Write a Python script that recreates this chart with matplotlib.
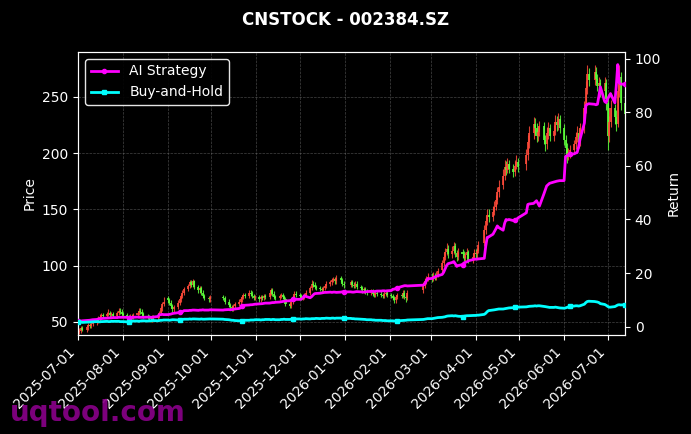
import matplotlib
matplotlib.use("Agg")
import matplotlib.pyplot as plt
import matplotlib.dates as mdates
import numpy as np
import pandas as pd

TITLE = "CNSTOCK - 002384.SZ"
START, END = "2025-07-01", "2026-07-13"
# exchange holidays (weekdays with no trading)
HOLIDAYS = ["2025-10-01", "2025-10-02", "2025-10-03", "2025-10-06", "2025-10-07", "2025-10-08",
            "2026-01-01", "2026-01-02",
            "2026-02-16", "2026-02-17", "2026-02-18", "2026-02-19", "2026-02-20", "2026-02-23",
            "2026-04-06", "2026-05-01", "2026-05-04", "2026-05-05", "2026-06-19"]

# daily OHLC, one line per month (Jul-25 .. Jul-26)
OPEN = [
    40, 41, 42, 44, 43, 45, 47, 46, 48, 49, 51, 53, 54, 56, 55, 57, 58, 56, 57, 55, 58, 60, 59,
    57, 56, 54, 53, 55, 54, 56, 58, 60, 59, 57, 55, 54, 53, 52, 54, 53, 55, 58, 62, 66,
    71, 69, 67, 64, 61, 63, 67, 70, 73, 76, 79, 82, 85, 83, 86, 81, 78, 80, 76, 73, 71, 70,
    72, 71, 68, 65, 63, 62, 64, 66, 68, 70, 72, 74, 73, 76, 75, 73, 71,
    72, 70, 72, 71, 73, 72, 76, 78, 75, 72, 71, 73, 74, 72, 70, 66, 64, 68, 72, 75,
    74, 73, 71, 72, 74, 76, 80, 84, 83, 81, 80, 79, 78, 80, 82, 84, 85, 87, 88, 86, 89, 87, 84,
    83, 85, 83, 82, 84, 81, 80, 78, 79, 77, 76, 77, 75, 74, 76, 75, 74, 73, 75, 76,
    74, 73, 71, 69, 72, 74, 73, 76, 72, 71, 78, 82, 86, 88,
    90, 88, 91, 89, 92, 96, 102, 108, 112, 115, 110, 113, 117, 111, 108, 112, 110, 107, 109, 112, 105, 108,
    111, 110, 113, 120, 132, 140, 145, 143, 148, 152, 158, 165, 172, 180, 188, 185, 190, 186, 183, 189, 192,
    190, 198, 210, 218, 226, 222, 215, 219, 224, 212, 208, 218, 222, 215, 220, 228, 225, 230,
    222, 212, 205, 198, 200, 203, 208, 214, 218, 210, 222, 240, 258, 270, 265, 272, 266, 260, 262, 255, 262,
    245, 215, 228, 240, 232, 226, 255, 268, 245,
]
HIGH = [
    43, 44, 46, 46, 47, 49, 49, 50, 52, 53, 55, 57, 58, 58, 59, 61, 60, 59, 59, 60, 62, 62, 61,
    59, 58, 56, 57, 57, 58, 60, 62, 62, 61, 59, 57, 56, 55, 56, 56, 57, 60, 64, 68, 72,
    73, 71, 69, 66, 65, 69, 72, 75, 78, 81, 84, 87, 87, 88, 87, 83, 82, 82, 78, 75, 73, 74,
    74, 73, 70, 67, 65, 66, 68, 70, 72, 74, 76, 76, 78, 78, 77, 75, 74,
    74, 74, 74, 75, 75, 78, 80, 80, 77, 74, 75, 76, 76, 74, 72, 68, 70, 74, 77, 77,
    76, 75, 74, 76, 78, 82, 87, 86, 85, 83, 82, 81, 82, 84, 86, 87, 89, 90, 90, 92, 91, 89, 86,
    87, 87, 85, 86, 86, 83, 82, 81, 81, 79, 79, 79, 77, 78, 78, 77, 76, 77, 78, 78,
    76, 75, 73, 74, 76, 76, 78, 78, 74, 78, 85, 89, 91, 93,
    93, 94, 93, 95, 98, 105, 112, 116, 120, 118, 117, 121, 120, 114, 116, 115, 113, 112, 116, 114, 111, 115,
    115, 116, 122, 136, 145, 150, 150, 153, 157, 163, 170, 176, 186, 194, 193, 196, 194, 190, 194, 198, 196,
    204, 216, 224, 232, 231, 227, 224, 229, 228, 216, 223, 228, 226, 225, 234, 233, 236, 234,
    226, 216, 209, 205, 207, 212, 219, 224, 222, 227, 246, 264, 278, 276, 278, 277, 270, 268, 266, 268, 266,
    250, 233, 247, 244, 238, 263, 278, 272, 249,
]
LOW = [
    38, 39, 40, 42, 41, 43, 44, 44, 46, 47, 49, 51, 52, 53, 53, 55, 54, 54, 53, 53, 56, 57, 55,
    54, 52, 51, 51, 52, 52, 54, 56, 57, 55, 53, 52, 51, 50, 50, 51, 51, 53, 56, 60, 64,
    67, 65, 62, 59, 59, 61, 65, 68, 71, 74, 77, 80, 81, 81, 79, 76, 76, 74, 71, 69, 68, 68,
    69, 66, 63, 61, 60, 60, 62, 64, 66, 68, 70, 71, 71, 73, 71, 69, 69,
    68, 68, 69, 69, 70, 70, 74, 73, 70, 69, 69, 71, 70, 68, 64, 62, 62, 66, 70, 72,
    71, 69, 69, 70, 72, 74, 78, 81, 79, 78, 77, 76, 76, 78, 80, 82, 83, 85, 84, 84, 85, 82, 80,
    81, 81, 80, 80, 79, 78, 76, 76, 75, 74, 74, 73, 72, 72, 73, 72, 71, 71, 73, 72,
    71, 69, 67, 67, 70, 71, 71, 70, 68, 69, 76, 80, 84, 86,
    85, 86, 87, 87, 90, 94, 100, 105, 109, 107, 107, 110, 108, 104, 105, 107, 104, 104, 106, 102, 102, 105,
    106, 107, 111, 117, 128, 136, 139, 140, 145, 149, 155, 161, 168, 176, 181, 182, 182, 179, 180, 186, 183,
    185, 194, 205, 213, 217, 210, 211, 215, 208, 202, 204, 213, 211, 211, 216, 220, 221, 218,
    207, 200, 191, 194, 196, 199, 204, 210, 205, 206, 218, 236, 253, 260, 261, 262, 255, 254, 250, 251, 238,
    203, 210, 223, 226, 220, 223, 250, 238, 221,
]
CLOSE = [
    41, 42, 44, 43, 45, 47, 46, 48, 49, 51, 53, 54, 56, 55, 57, 58, 56, 57, 55, 58, 60, 59, 57,
    56, 54, 53, 55, 54, 56, 58, 60, 59, 57, 55, 54, 53, 52, 54, 53, 55, 58, 62, 66, 68,
    69, 67, 64, 61, 63, 67, 70, 73, 76, 79, 82, 85, 83, 86, 81, 78, 80, 76, 73, 71, 70, 72,
    71, 68, 65, 63, 62, 64, 66, 68, 70, 72, 74, 73, 76, 75, 73, 71, 72,
    70, 72, 71, 73, 72, 76, 78, 75, 72, 71, 73, 74, 72, 70, 66, 64, 68, 72, 75, 74,
    73, 71, 72, 74, 76, 80, 84, 83, 81, 80, 79, 78, 80, 82, 84, 85, 87, 88, 86, 89, 87, 84, 83,
    85, 83, 82, 84, 81, 80, 78, 79, 77, 76, 77, 75, 74, 76, 75, 74, 73, 75, 76, 74,
    73, 71, 69, 72, 74, 73, 76, 72, 71, 76, 82, 86, 88, 90,
    88, 91, 89, 92, 95, 102, 108, 112, 115, 110, 113, 117, 111, 108, 112, 110, 107, 109, 112, 105, 108, 111,
    110, 113, 118, 132, 140, 145, 143, 148, 152, 158, 165, 170, 180, 188, 185, 190, 186, 183, 189, 192, 188,
    198, 210, 218, 226, 222, 215, 219, 224, 212, 208, 218, 222, 215, 220, 228, 225, 230, 222,
    212, 205, 198, 200, 203, 208, 214, 218, 210, 222, 240, 258, 270, 265, 272, 266, 260, 262, 255, 262, 248,
    215, 228, 240, 232, 226, 255, 268, 245, 235,
]

# cumulative return curves (right axis)
AI_STRATEGY = [
    2.0, 2.0, 2.1, 2.2, 2.3, 2.3, 2.4, 2.5, 2.6, 2.7, 2.9, 3.0, 3.0, 3.1, 3.2, 3.2, 3.3, 3.3, 3.4, 3.4, 3.5, 3.5, 3.5,
    3.5, 3.5, 3.4, 3.5, 3.5, 3.5, 3.6, 3.5, 3.5, 3.5, 3.5, 3.6, 3.6, 3.5, 3.5, 3.6, 3.8, 4.5, 4.5, 4.6, 4.5,
    4.5, 4.6, 4.7, 4.9, 5.0, 5.2, 5.3, 5.4, 5.6, 6.0, 6.0, 6.1, 6.1, 6.2, 6.2, 6.1, 6.2, 6.2, 6.3, 6.2, 6.2, 6.3,
    6.2, 6.3, 6.4, 6.3, 6.4, 6.5, 6.6, 6.8, 7.0, 7.8, 7.9, 8.0, 8.1, 8.2, 8.2, 8.3, 8.4,
    8.5, 8.5, 8.6, 8.7, 8.8, 8.8, 8.9, 9.0, 9.0, 9.1, 9.2, 9.3, 9.4, 9.5, 9.6, 9.7, 9.9, 10.2, 10.2, 10.2,
    10.2, 10.3, 10.8, 11.6, 11.3, 10.8, 11.2, 11.8, 12.3, 12.4, 12.5, 12.6, 12.7, 12.8, 12.8, 12.9, 12.8, 12.9,
    12.9, 12.8, 12.9, 13.0, 13.0,
    13.0, 12.9, 12.9, 13.0, 13.1, 13.0, 13.0, 12.9, 13.0, 13.1, 13.2, 13.2, 13.1, 13.2, 13.3, 13.3, 13.4, 13.4,
    13.3, 13.4,
    13.5, 14.0, 14.0, 14.3, 14.5, 15.0, 15.2, 15.3, 15.3, 15.2, 15.5, 16.0, 17.0, 17.9,
    18.0, 18.3, 18.6, 18.8, 19.0, 19.5, 20.3, 21.5, 22.8, 23.5, 24.0, 24.3, 23.5, 22.5, 22.8, 23.2, 23.8, 24.0,
    24.2, 24.6, 25.0, 25.2,
    25.2, 25.2, 25.3, 25.5, 30.0, 33.3, 33.5, 34.5, 35.5, 36.5, 37.6, 37.0, 36.0, 38.5, 40.0, 39.8, 40.0, 39.6,
    39.8, 39.5, 40.5,
    42.5, 45.6, 45.8, 46.0, 46.5, 47.0, 46.0, 45.0, 49.4, 51.0, 52.5, 53.0, 53.5, 54.0, 54.2, 54.3, 54.4, 54.5,
    54.5, 63.5, 63.8, 64.0, 64.4, 64.5, 64.8, 65.0, 67.0, 70.0, 76.0, 82.5, 83.0, 83.2, 83.0, 82.8, 83.0, 86.0,
    89.5, 84.0, 83.6,
    85.0, 86.0, 87.0, 83.5, 90.0, 97.8, 91.0, 90.5, 90.5,
]
BUY_HOLD = [
    1.6, 1.6, 1.7, 1.6, 1.7, 1.7, 1.8, 1.8, 1.8, 1.9, 1.9, 1.8, 1.9, 1.9, 2.0, 1.9, 1.9, 2.0, 2.0, 2.0, 2.0, 1.9, 1.9,
    1.9, 1.8, 1.9, 2.0, 2.0, 2.1, 2.1, 2.0, 2.1, 2.2, 2.2, 2.1, 2.2, 2.2, 2.3, 2.3, 2.2, 2.3, 2.4, 2.4, 2.5,
    2.5, 2.4, 2.5, 2.6, 2.6, 2.5, 2.6, 2.7, 2.7, 2.8, 2.8, 2.9, 2.8, 2.9, 2.9, 2.8, 2.8, 2.9, 2.8, 2.8, 2.9, 2.9,
    2.8, 2.7, 2.6, 2.5, 2.4, 2.4, 2.3, 2.2, 2.2, 2.3, 2.3, 2.4, 2.4, 2.5, 2.5, 2.5, 2.6,
    2.6, 2.5, 2.6, 2.6, 2.7, 2.7, 2.6, 2.7, 2.7, 2.6, 2.6, 2.7, 2.7, 2.8, 2.7, 2.7, 2.8, 2.8, 2.9, 2.9,
    2.9, 2.8, 2.9, 2.9, 3.0, 2.9, 3.0, 3.0, 3.0, 3.1, 3.0, 3.1, 3.1, 3.1, 3.2, 3.1, 3.2, 3.2, 3.1, 3.2, 3.2, 3.1, 3.1,
    3.1, 3.0, 3.0, 2.9, 2.9, 2.8, 2.8, 2.7, 2.7, 2.6, 2.6, 2.5, 2.5, 2.4, 2.4, 2.4, 2.3, 2.3, 2.3, 2.2,
    2.2, 2.2, 2.1, 2.2, 2.2, 2.3, 2.3, 2.4, 2.4, 2.5, 2.7, 2.8, 2.9, 3.0,
    3.0, 3.1, 3.2, 3.3, 3.4, 3.5, 3.6, 3.7, 3.9, 4.0, 4.1, 4.0, 4.1, 4.0, 3.9, 3.8, 3.9, 4.0, 4.1, 4.1, 4.2, 4.2,
    4.2, 4.3, 4.3, 4.6, 5.0, 5.6, 6.0, 6.2, 6.3, 6.4, 6.5, 6.6, 6.6, 6.7, 6.8, 6.9, 7.0, 7.1, 7.2, 7.2, 7.3,
    7.4, 7.5, 7.6, 7.7, 7.8, 7.7, 7.8, 7.8, 7.6, 7.5, 7.4, 7.3, 7.2, 7.2, 7.3, 7.2, 7.1, 7.0,
    6.9, 7.0, 7.2, 7.4, 7.6, 7.7, 7.8, 7.8, 7.7, 7.8, 8.4, 9.0, 9.4, 9.5, 9.4, 9.3, 9.2, 9.0, 8.6, 8.3, 8.0,
    7.6, 7.3, 7.3, 7.5, 7.8, 8.1, 8.2, 8.1, 8.2,
]

UP_COLOR, DOWN_COLOR = "#ff4a3a", "#5cff3a"


def main():
    days = pd.bdate_range(START, END)
    days = days[~days.isin(pd.to_datetime(HOLIDAYS))]
    o, h, l, c = (np.array(v, dtype=float) for v in (OPEN, HIGH, LOW, CLOSE))
    x = mdates.date2num(days)

    fig = plt.figure(figsize=(6.91, 4.34), dpi=100, facecolor="black")
    ax = fig.add_axes([0.1129, 0.2281, 0.7916, 0.6521], facecolor="black")

    # candles: red = up, green = down
    cols = np.where(c >= o, UP_COLOR, DOWN_COLOR)
    ax.vlines(x, l, h, colors=cols, lw=0.8, alpha=0.85, zorder=2)
    ax.bar(x, c - o, bottom=o, width=1.4, color=cols, alpha=0.85, zorder=2, linewidth=0)

    ax.set_ylim(38.2, 290)
    ax.set_xlim(x[0], x[-1])
    ax.set_ylabel("Price", color="white", fontsize=10)
    ax.xaxis.set_major_locator(mdates.MonthLocator())
    ax.xaxis.set_major_formatter(mdates.DateFormatter("%Y-%m-%d"))
    plt.setp(ax.get_xticklabels(), rotation=45, ha="right")
    ax.grid(True, color="#888888", ls="--", lw=0.5, alpha=0.5)

    ax2 = ax.twinx()
    ax2.plot(days, AI_STRATEGY, color="#ff00ff", lw=2, marker="o", ms=3,
             markevery=25, label="AI Strategy", zorder=3)
    ax2.plot(days, BUY_HOLD, color="#00ffff", lw=2, marker="s", ms=3.5,
             markevery=25, label="Buy-and-Hold", zorder=3)
    ax2.set_ylim(-3.1, 102.5)
    ax2.set_ylabel("Return", color="white", fontsize=10)

    for a in (ax, ax2):
        a.tick_params(colors="white", labelsize=10)
        for sp in a.spines.values():
            sp.set_color("white")

    leg = ax2.legend(loc="upper left", facecolor="black", edgecolor="white",
                     fontsize=10, framealpha=0.9)
    for t in leg.get_texts():
        t.set_color("white")

    fig.suptitle(TITLE, color="white", fontsize=12, fontweight="bold", y=0.975)
    fig.text(0.015, 0.03, "uqtool.com", color="#8a008a", fontsize=20,
             fontweight="bold", alpha=0.9)

    fig.savefig("out.png", dpi=100, facecolor="black")


if __name__ == "__main__":
    main()
